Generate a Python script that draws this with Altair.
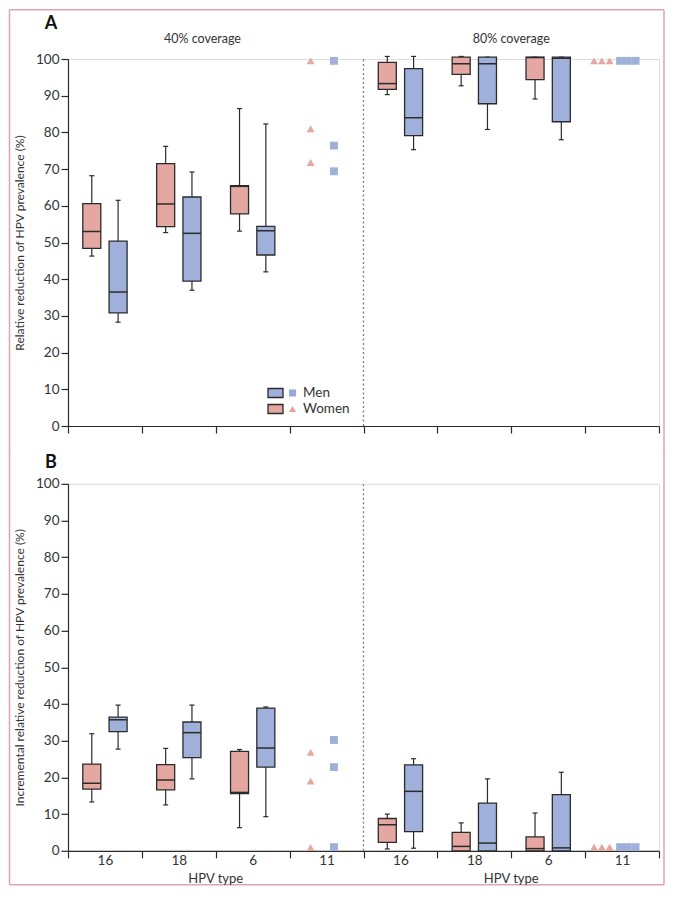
import altair as alt
import pandas as pd

# ---------------- data ----------------
hpv_types = ["16", "18", "6", "11"]
box_types = ["16", "18", "6"]
coverages = ["40%", "80%"]
coverage_titles = ["40% coverage", "80% coverage"]
sexes = ["Men", "Women"]

# Panel A: relative reduction; order = 40% (16, 18, 6), 80% (16, 18, 6)
a_women_low = [46.3, 52.7, 53.1, 90.3, 92.7, 89.1]
a_women_q1 = [48.4, 54.3, 57.8, 91.7, 95.8, 94.4]
a_women_med = [53.0, 60.5, 65.3, 93.3, 98.7, 100.4]
a_women_q3 = [60.6, 71.5, 65.5, 99.1, 100.5, 100.5]
a_women_high = [68.2, 76.2, 86.5, 100.7, 100.7, 100.5]
a_men_low = [28.3, 37.0, 42.0, 75.3, 80.8, 78.0]
a_men_q1 = [30.8, 39.5, 46.6, 79.1, 87.8, 82.9]
a_men_med = [36.5, 52.5, 53.2, 84.0, 98.7, 100.2]
a_men_q3 = [50.4, 62.4, 54.4, 97.4, 100.5, 100.5]
a_men_high = [61.5, 69.2, 82.3, 100.7, 100.5, 100.5]
# HPV 11 single values (3 scenarios) at 40% and 80%
a_women_11 = [[99.5, 81.0, 71.8], [99.5, 99.5, 99.5]]
a_men_11 = [[99.5, 76.4, 69.4], [99.5, 99.5, 99.5]]

# Panel B: incremental relative reduction
b_women_low = [13.3, 12.5, 6.3, 0.5, 0.0, 0.0]
b_women_q1 = [16.8, 16.6, 15.6, 2.3, 0.0, 0.0]
b_women_med = [18.4, 19.3, 15.9, 7.1, 1.2, 0.6]
b_women_q3 = [23.6, 23.5, 27.1, 8.8, 5.0, 3.8]
b_women_high = [31.9, 27.9, 27.6, 10.0, 7.6, 10.3]
b_men_low = [27.7, 19.6, 9.3, 0.7, 0.0, 0.0]
b_men_q1 = [32.5, 25.4, 22.8, 5.2, 0.0, 0.0]
b_men_med = [35.7, 32.2, 28.0, 16.2, 2.1, 0.8]
b_men_q3 = [36.4, 35.1, 38.9, 23.4, 13.0, 15.3]
b_men_high = [39.7, 39.7, 39.2, 25.1, 19.6, 21.4]
b_women_11 = [[26.8, 19.0, 0.9], [1.0, 1.0, 1.0]]
b_men_11 = [[30.2, 22.8, 1.0], [1.0, 1.0, 1.0]]

# ---------------- styling ----------------
FONT = "Lato"
TXT = "#333333"
LINE = "#2b2b2b"
BOX_FILL = {"Women": "#E4A7A1", "Men": "#9FB0DA"}
PT_FILL = {"Women": "#E8A19D", "Men": "#98AADC"}
BORDER = "#E0A3B6"
W, H = 591, 367


def box_frame(stats):
    rows = []
    for sex, (lo, q1, md, q3, hi) in stats.items():
        for ci, cov in enumerate(coverages):
            for ti, t in enumerate(box_types):
                i = ci * 3 + ti
                rows.append(dict(coverage=cov, hpv=t, sex=sex, band=ci * 4 + ti,
                                 low=lo[i], q1=q1[i], med=md[i], q3=q3[i], high=hi[i]))
    return pd.DataFrame(rows)


def point_frame(women11, men11):
    rows = []
    for sex, vals in (("Women", women11), ("Men", men11)):
        for ci, cov in enumerate(coverages):
            for k, v in enumerate(vals[ci]):
                rows.append(dict(coverage=cov, hpv="11", sex=sex, band=ci * 4 + 3, k=k, value=v))
    return pd.DataFrame(rows)


xscale = alt.Scale(domain=[0, 8], nice=False, zero=False)
yscale = alt.Scale(domain=[0, 100], nice=False, zero=False)
color_box = alt.Scale(domain=list(BOX_FILL), range=list(BOX_FILL.values()))
color_pt = alt.Scale(domain=list(PT_FILL), range=list(PT_FILL.values()))
shape_pt = alt.Scale(domain=["Women", "Men"], range=["triangle-up", "square"])

label_list = ",".join("'%s'" % t for t in hpv_types * 2)


def x_axis(show_labels):
    common = dict(values=list(range(9)), tickSize=7, domainColor=LINE, tickColor=LINE,
                  domainWidth=1.2, tickWidth=1.2, grid=False, title=None)
    if show_labels:
        return alt.Axis(labelExpr="datum.value >= 8 ? '' : [" + label_list + "][datum.value]",
                        labelOffset={"condition": {"test": "datum.value >= 8", "value": 0},
                                     "value": W / 16},
                        labelFlush=False, labelBound=False,
                        labelOverlap=False, labelPadding=-4, labelFontSize=13.5,
                        labelColor=TXT, labelFont=FONT, **common)
    return alt.Axis(labels=False, **common)


def y_axis(title):
    return alt.Axis(values=list(range(0, 101, 10)), tickSize=7, labelPadding=2, titlePadding=9,
                    title=title, grid=False, labelFontSize=13.5, titleFontSize=12,
                    titleFontWeight="normal", domainColor=LINE, tickColor=LINE,
                    domainWidth=1.2, tickWidth=1.2, labelColor=TXT, titleColor=TXT,
                    labelFont=FONT, titleFont=FONT)


def panel(stats, women11, men11, ytitle, letter, top_panel):
    bdf = box_frame(stats)
    pdf = point_frame(women11, men11)
    xa = x_axis(not top_panel)
    ya = y_axis(ytitle)

    base = alt.Chart(bdf).transform_calculate(
        pos="datum.band + 0.5 + (datum.sex == 'Women' ? -0.178 : 0.178)"
    ).transform_calculate(
        box_lo="datum.pos - 0.122", box_hi="datum.pos + 0.122",
        cap_lo="datum.pos - 0.034", cap_hi="datum.pos + 0.034",
    )

    divider = alt.Chart(pd.DataFrame({"split": [4]})).mark_rule(
        color="#5f8696", strokeDash=[2, 2.5], strokeWidth=1.3
    ).encode(x=alt.X("split:Q", scale=xscale, axis=xa),
             y=alt.datum(0, scale=yscale, axis=ya), y2=alt.datum(100))

    whisk = base.mark_rule(color=LINE, strokeWidth=1.2).encode(
        x=alt.X("pos:Q", scale=xscale, axis=xa),
        y=alt.Y("low:Q", scale=yscale, axis=ya), y2="high:Q")
    cap_hi = base.mark_rule(color=LINE, strokeWidth=1.2).encode(
        x=alt.X("cap_lo:Q", scale=xscale, axis=xa), x2="cap_hi:Q",
        y=alt.Y("high:Q", scale=yscale, axis=ya))
    cap_lo = base.mark_rule(color=LINE, strokeWidth=1.2).encode(
        x=alt.X("cap_lo:Q", scale=xscale, axis=xa), x2="cap_hi:Q",
        y=alt.Y("low:Q", scale=yscale, axis=ya))
    boxes = base.mark_rect(stroke=LINE, strokeWidth=1.3).encode(
        x=alt.X("box_lo:Q", scale=xscale, axis=xa), x2="box_hi:Q",
        y=alt.Y("q1:Q", scale=yscale, axis=ya), y2="q3:Q",
        fill=alt.Fill("sex:N", scale=color_box, legend=None))
    medians = base.mark_rule(color=LINE, strokeWidth=1.5).encode(
        x=alt.X("box_lo:Q", scale=xscale, axis=xa), x2="box_hi:Q",
        y=alt.Y("med:Q", scale=yscale, axis=ya))

    points = alt.Chart(pdf).transform_calculate(
        pos="datum.band + 0.5 + (datum.coverage == '40%' ? (datum.sex == 'Women' ? -0.216 : 0.10)"
            " : (datum.sex == 'Women' ? -0.274 : 0.078) + (datum.k - 1) * 0.105)"
    ).mark_point(filled=True, opacity=1, size=62).encode(
        x=alt.X("pos:Q", scale=xscale, axis=xa),
        y=alt.Y("value:Q", scale=yscale, axis=ya),
        fill=alt.Fill("sex:N", scale=color_pt, legend=None),
        shape=alt.Shape("sex:N", scale=shape_pt, legend=None))

    layers = [divider, whisk, cap_hi, cap_lo, boxes, medians, points]

    one = alt.Chart(pd.DataFrame({"n": [0]}))
    layers.append(one.mark_text(text=letter, font=FONT, fontSize=18, fontWeight="bold",
                                color="#111111", align="center", baseline="middle").encode(
        x=alt.value(-17), y=alt.value(-35 if top_panel else -21)))

    if top_panel:
        cov_df = pd.DataFrame({"label": coverage_titles, "xc": [1.82, 6.0]})
        layers.append(alt.Chart(cov_df).mark_text(font=FONT, fontSize=12.5, color=TXT,
                                                  baseline="middle").encode(
            x=alt.X("xc:Q", scale=xscale, axis=xa), y=alt.value(-20), text="label:N"))
        # legend
        for i, sex in enumerate(sexes):
            yc = 334 + 16 * i
            layers.append(one.mark_rect(fill=BOX_FILL[sex], stroke=LINE, strokeWidth=1.3).encode(
                x=alt.value(200), x2=alt.value(215), y=alt.value(yc - 4.5), y2=alt.value(yc + 4.5)))
            layers.append(one.mark_point(filled=True, opacity=1, size=50, fill=PT_FILL[sex],
                                         shape="square" if sex == "Men" else "triangle-up").encode(
                x=alt.value(224.5), y=alt.value(yc)))
            layers.append(one.mark_text(text=sex, font=FONT, fontSize=13.5, color=TXT,
                                        align="left", baseline="middle").encode(
                x=alt.value(235), y=alt.value(yc)))
        top, bottom = -49.2, 392
    else:
        ht_df = pd.DataFrame({"label": ["HPV type", "HPV type"], "xc": [2.0, 6.0]})
        layers.append(alt.Chart(ht_df).mark_text(font=FONT, fontSize=13, color=TXT,
                                                 baseline="middle").encode(
            x=alt.X("xc:Q", scale=xscale, axis=xa), y=alt.value(395), text="label:N"))
        top, bottom = -34.3, 401

    # figure frame
    left, right = -58.5, 596
    frame = [one.mark_rule(color=BORDER, strokeWidth=1.5).encode(
                 x=alt.value(left), y=alt.value(top), y2=alt.value(bottom)),
             one.mark_rule(color=BORDER, strokeWidth=1.5).encode(
                 x=alt.value(right), y=alt.value(top), y2=alt.value(bottom))]
    edge_y = top if top_panel else bottom
    frame.append(one.mark_rule(color=BORDER, strokeWidth=1.5).encode(
        x=alt.value(left), x2=alt.value(right), y=alt.value(edge_y)))
    layers = frame + layers

    return alt.layer(*layers).properties(width=W, height=H)


panel_a = panel({"Women": (a_women_low, a_women_q1, a_women_med, a_women_q3, a_women_high),
                 "Men": (a_men_low, a_men_q1, a_men_med, a_men_q3, a_men_high)},
                a_women_11, a_men_11, "Relative reduction of HPV prevalence (%)", "A", True)
panel_b = panel({"Women": (b_women_low, b_women_q1, b_women_med, b_women_q3, b_women_high),
                 "Men": (b_men_low, b_men_q1, b_men_med, b_men_q3, b_men_high)},
                b_women_11, b_men_11, "Incremental relative reduction of HPV prevalence (%)", "B", False)

chart = alt.vconcat(panel_a, panel_b, spacing=-5.2).properties(padding=0).configure_view(
    stroke="transparent").configure(font=FONT)

chart.save("out.html", embed_options={"renderer": "svg", "actions": False})
